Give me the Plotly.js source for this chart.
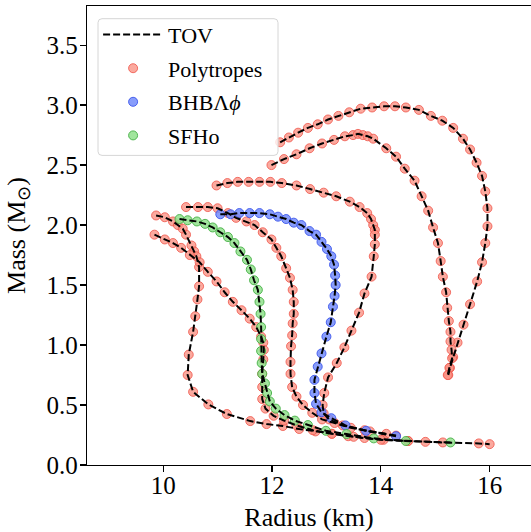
<!DOCTYPE html>
<html>
<head>
<meta charset="utf-8">
<script src="https://cdn.plot.ly/plotly-3.0.1.min.js"></script>
<style>html,body{margin:0;padding:0;background:#fff;}#chart{width:531px;height:532px;}</style>
</head>
<body>
<div id="chart"></div>
<script>
// Polytrope mass-radius curves (R in km, M in solar masses)
var poly1R = [12.15,12.31,12.48,12.66,12.84,13.03,13.22,13.42,13.63,13.84,14.06,14.26,14.46,14.70,14.92,15.13,15.33,15.51,15.64,15.76,15.86,15.92,15.96,15.96,15.92,15.86,15.77,15.64,15.52,15.41,15.33,15.27,15.24];
var poly1M = [2.69,2.73,2.77,2.81,2.84,2.88,2.91,2.94,2.97,2.98,2.99,2.99,2.98,2.96,2.91,2.87,2.81,2.72,2.63,2.52,2.41,2.28,2.14,1.99,1.85,1.69,1.53,1.34,1.17,1.02,0.90,0.81,0.75];

var poly2R = [11.99,12.22,12.45,12.69,12.92,13.14,13.34,13.49,13.58,13.67,13.76,13.86,14.10,14.28,14.44,14.62,14.75,14.87,14.96,15.05,15.10,15.14,15.20,15.22,15.25,15.28,15.28,15.30,15.31,15.26,15.23];
var poly2M = [2.50,2.55,2.59,2.64,2.68,2.71,2.74,2.75,2.76,2.75,2.74,2.72,2.64,2.57,2.47,2.37,2.24,2.12,1.98,1.85,1.70,1.57,1.44,1.31,1.20,1.11,1.03,0.96,0.89,0.81,0.75];

var poly3R = [10.98,11.18,11.37,11.57,11.77,11.97,12.18,12.45,12.70,12.95,13.18,13.43,13.61,13.75,13.82,13.86,13.89,13.89,13.89,13.87,13.83,13.70,13.60,13.46,13.33,13.19,13.03,12.96,12.93,12.95,13.05,13.30,13.70,14.28];
var poly3M = [2.33,2.35,2.36,2.36,2.36,2.36,2.35,2.33,2.30,2.27,2.24,2.195,2.15,2.10,2.05,2.00,1.96,1.92,1.84,1.74,1.57,1.43,1.27,1.12,0.98,0.85,0.73,0.60,0.50,0.43,0.38,0.33,0.29,0.245];

var poly4R = [10.42,10.64,10.82,11.00,11.19,11.34,11.53,11.68,11.83,11.99,12.08,12.17,12.26,12.33,12.38,12.40,12.40,12.38,12.37,12.35,12.34,12.34,12.37,12.45,12.57,12.74,12.92,13.15,13.45,13.80,14.10];
var poly4M = [2.15,2.15,2.15,2.14,2.10,2.06,2.03,2.00,1.94,1.88,1.81,1.74,1.64,1.56,1.46,1.36,1.26,1.18,1.08,0.99,0.86,0.76,0.65,0.57,0.50,0.435,0.38,0.35,0.31,0.28,0.26];

var poly5R = [9.87,10.03,10.18,10.27,10.36,10.42,10.52,10.57,10.61,10.66,10.66,10.63,10.59,10.55,10.47,10.45,10.55,10.83,11.17,11.60,11.90,12.20,12.50,12.80,13.10,13.40,13.70,14.05,14.50,14.82,15.14,15.80,16.00];
var poly5M = [2.08,2.065,2.03,2.00,1.97,1.92,1.83,1.78,1.74,1.65,1.49,1.38,1.24,1.11,0.92,0.75,0.61,0.505,0.425,0.366,0.341,0.325,0.30,0.28,0.26,0.24,0.225,0.21,0.20,0.193,0.188,0.18,0.174];

var poly6R = [9.84,10.03,10.18,10.33,10.49,10.67,10.82,10.98,11.13,11.28,11.44,11.59,11.71,11.80,11.84,11.85,11.84,11.82,11.82,11.82,11.88,12.03,12.22,12.45,12.75,13.10,13.50,14.00,14.50];
var poly6M = [1.92,1.88,1.85,1.81,1.75,1.69,1.61,1.53,1.44,1.36,1.29,1.22,1.15,1.07,1.02,0.96,0.88,0.76,0.65,0.55,0.47,0.41,0.37,0.33,0.29,0.26,0.235,0.21,0.20];

// BHB Lambda phi
var bhbR = [11.05,11.24,11.40,11.59,11.77,11.96,12.11,12.26,12.40,12.54,12.69,12.81,12.91,13.01,13.09,13.14,13.16,13.17,13.15,13.12,13.08,13.00,12.91,12.84,12.78,12.78,12.81,12.91,13.09,13.35,13.73,14.28];
var bhbM = [2.09,2.09,2.10,2.10,2.10,2.09,2.07,2.05,2.02,2.00,1.95,1.92,1.86,1.80,1.74,1.67,1.58,1.50,1.41,1.32,1.19,1.07,0.93,0.82,0.71,0.60,0.51,0.44,0.39,0.33,0.285,0.24];

// SFHo
var sfhoR = [10.30,10.45,10.62,10.77,10.91,11.05,11.19,11.31,11.42,11.54,11.61,11.67,11.74,11.77,11.79,11.80,11.80,11.80,11.81,11.82,11.87,11.91,11.96,12.07,12.23,12.42,12.66,12.99,13.37,13.87,14.46,15.28];
var sfhoM = [2.05,2.04,2.03,2.01,1.98,1.94,1.90,1.85,1.78,1.71,1.63,1.54,1.46,1.36,1.26,1.15,1.05,0.95,0.85,0.76,0.68,0.60,0.53,0.47,0.416,0.37,0.333,0.285,0.258,0.222,0.20,0.188];

var xTicks = [10, 12, 14, 16];
var yTicks = [0.0, 0.5, 1.0, 1.5, 2.0, 2.5, 3.0, 3.5];

var polyCurvesR = [poly1R, poly2R, poly3R, poly4R, poly5R, poly6R];
var polyCurvesM = [poly1M, poly2M, poly3M, poly4M, poly5M, poly6M];

function joinCurves(list) {
  var out = [];
  list.forEach(function (c, i) { if (i > 0) out.push(null); out = out.concat(c); });
  return out;
}

var polyR = joinCurves(polyCurvesR);
var polyM = joinCurves(polyCurvesM);
var allR = joinCurves(polyCurvesR.concat([bhbR, sfhoR]));
var allM = joinCurves(polyCurvesM.concat([bhbM, sfhoM]));

var FONT = 'Liberation Serif';

// legend frame (paper coordinates of the plot area, with rounded corners)
var L = 87, T = 6, PW = 444, PH = 459;
function px2x(p) { return (p - L) / PW; }
function py2y(p) { return 1 - (p - T) / PH; }
function roundedRect(x0, y0, x1, y1, r) {
  var X0 = px2x(x0), X1 = px2x(x1), Y0 = py2y(y0), Y1 = py2y(y1);
  var rx = r / PW, ry = r / PH;
  return 'M' + (X0 + rx) + ',' + Y0 + ' L' + (X1 - rx) + ',' + Y0 + ' Q' + X1 + ',' + Y0 + ' ' + X1 + ',' + (Y0 - ry) +
         ' L' + X1 + ',' + (Y1 + ry) + ' Q' + X1 + ',' + Y1 + ' ' + (X1 - rx) + ',' + Y1 +
         ' L' + (X0 + rx) + ',' + Y1 + ' Q' + X0 + ',' + Y1 + ' ' + X0 + ',' + (Y1 + ry) +
         ' L' + X0 + ',' + (Y0 - ry) + ' Q' + X0 + ',' + Y0 + ' ' + (X0 + rx) + ',' + Y0 + ' Z';
}

var traces = [
  {x: polyR, y: polyM, mode: 'markers', type: 'scatter', name: 'Polytropes', legendrank: 2, legendgroup: 'b',
   marker: {size: 9, color: 'rgba(250,140,125,0.75)', line: {color: 'rgba(240,90,80,0.85)', width: 1}}},
  {x: bhbR, y: bhbM, mode: 'markers', type: 'scatter', name: 'BHBΛ<i>ϕ</i>', legendrank: 3, legendgroup: 'c',
   marker: {size: 9, color: 'rgba(115,140,250,0.85)', line: {color: 'rgba(60,85,235,0.9)', width: 1}}},
  {x: sfhoR, y: sfhoM, mode: 'markers', type: 'scatter', name: 'SFHo', legendrank: 4, legendgroup: 'd',
   marker: {size: 9, color: 'rgba(145,225,140,0.85)', line: {color: 'rgba(70,175,70,0.9)', width: 1}}},
  {x: allR, y: allM, mode: 'lines', type: 'scatter', name: 'TOV', legendrank: 1, legendgroup: 'a',
   line: {color: 'black', width: 2, dash: '7px,3px'}, connectgaps: false}
];

var layout = {
  width: 531, height: 532,
  margin: {l: L, r: 0, t: T, b: 532 - T - PH},
  paper_bgcolor: 'white', plot_bgcolor: 'white',
  font: {family: FONT, color: 'black', size: 25},
  showlegend: true,
  legend: {x: 0.025, y: 0.983, xanchor: 'left', yanchor: 'top',
           bgcolor: 'rgba(0,0,0,0)', borderwidth: 0,
           font: {family: FONT, size: 22, color: 'black'}, traceorder: 'grouped', tracegroupgap: 2, itemwidth: 60},
  shapes: [{type: 'path', xref: 'paper', yref: 'paper', layer: 'above',
            path: roundedRect(98, 18.7, 278, 155.4, 4),
            fillcolor: 'rgba(255,255,255,0.8)', line: {color: '#d6d6d6', width: 1}}],
  xaxis: {range: [8.60, 16.76], tickvals: xTicks, ticks: 'outside', ticklen: 6, tickwidth: 1.2, tickcolor: 'black',
          ticklabelstandoff: -8,
          showline: true, linecolor: 'black', linewidth: 1.2, mirror: true, showgrid: false, zeroline: false,
          tickfont: {family: FONT, size: 25, color: 'black'},
          title: {text: 'Radius (km)', font: {family: FONT, size: 26, color: 'black'}}},
  yaxis: {range: [0, 3.826], tickvals: yTicks, tickformat: '.1f', ticks: 'outside', ticklen: 6, tickwidth: 1.2, tickcolor: 'black',
          ticklabelstandoff: -3,
          showline: true, linecolor: 'black', linewidth: 1.2, mirror: false, showgrid: false, zeroline: false,
          tickfont: {family: FONT, size: 25, color: 'black'},
          title: {text: 'Mass (M<sub>⊙</sub>)', font: {family: FONT, size: 26, color: 'black'}}}
};

Plotly.newPlot('chart', traces, layout, {displayModeBar: false, staticPlot: true});
</script>
</body>
</html>
